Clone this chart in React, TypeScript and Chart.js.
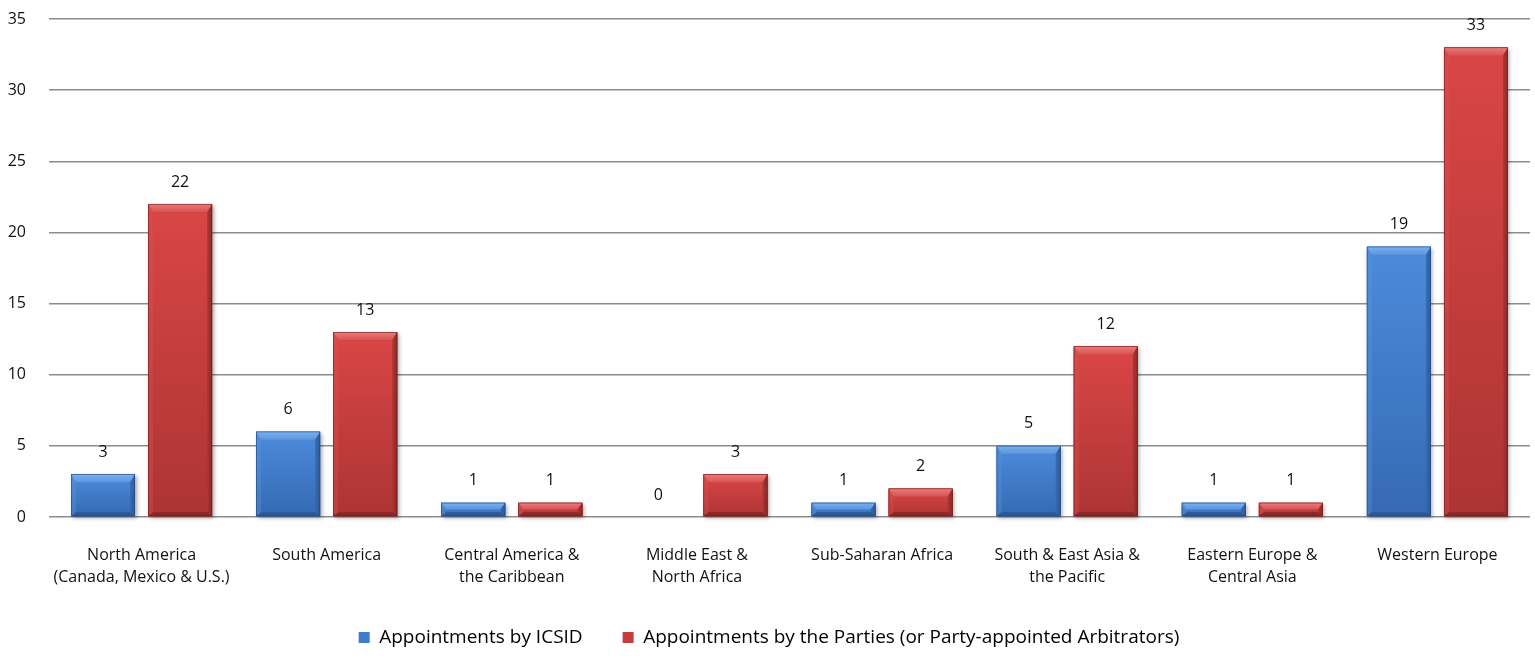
import React, { useEffect, useRef } from "react";
import { Chart, registerables } from "chart.js";

Chart.register(...registerables);

const categories: (string | string[])[] = [
  ["North America", "(Canada, Mexico & U.S.)"],
  "South America",
  ["Central America &", "the Caribbean"],
  ["Middle East &", "North Africa"],
  "Sub-Saharan Africa",
  ["South & East Asia &", "the Pacific"],
  ["Eastern Europe &", "Central Asia"],
  "Western Europe",
];
const icsidValues = [3, 6, 1, 0, 1, 5, 1, 19];
const partiesValues = [22, 13, 1, 3, 2, 12, 1, 33];
const seriesNames = [
  "Appointments by ICSID",
  "Appointments by the Parties (or Party-appointed Arbitrators)",
];
const yTicks = [0, 5, 10, 15, 20, 25, 30, 35];

const FONT = "'Open Sans', 'Noto Sans', sans-serif";

const palettes = [
  { base: "#3f7cc9", top: "#4c8bdb", bottom: "#356ab3", light: "#7db0ee", side: "#5c96de", dark: "#2a528c", edge: "#234a80" },
  { base: "#c63c3c", top: "#da4646", bottom: "#ad3434", light: "#ec7b7b", side: "#d65454", dark: "#7f2424", edge: "#6e1e1e" },
];

const bevelPlugin = {
  id: "bevel",
  afterDatasetsDraw(chart: any) {
    const ctx = chart.ctx as CanvasRenderingContext2D;
    chart.data.datasets.forEach((ds: any, di: number) => {
      const meta = chart.getDatasetMeta(di);
      const pal = palettes[di];
      meta.data.forEach((el: any, i: number) => {
        const p = el.getProps(["x", "y", "base", "width"], true);
        const l = p.x - p.width / 2;
        const r = p.x + p.width / 2;
        const t = Math.min(p.y, p.base);
        const b = Math.max(p.y, p.base);
        const h = b - t;
        const val = ds.data[i];
        if (h >= 1) {
          ctx.save();
          ctx.shadowColor = "rgba(0,0,0,0.35)";
          ctx.shadowBlur = 4;
          ctx.shadowOffsetX = 1.5;
          ctx.shadowOffsetY = 2;
          const g = ctx.createLinearGradient(0, t, 0, b);
          g.addColorStop(0, pal.top);
          g.addColorStop(1, pal.bottom);
          ctx.fillStyle = g;
          ctx.fillRect(l, t, r - l, h);
          ctx.restore();
          const tv = Math.min(8, h / 2);
          const sv = Math.min(5, h / 2);
          const bv = Math.min(4, h / 2);
          ctx.save();
          const tg = ctx.createLinearGradient(0, t, 0, t + tv);
          tg.addColorStop(0, pal.light);
          tg.addColorStop(1, pal.side);
          ctx.fillStyle = tg;
          ctx.beginPath();
          ctx.moveTo(l, t);
          ctx.lineTo(r, t);
          ctx.lineTo(r - sv, t + tv);
          ctx.lineTo(l + sv, t + tv);
          ctx.closePath();
          ctx.fill();
          ctx.globalAlpha = 0.35;
          ctx.fillStyle = pal.side;
          ctx.beginPath();
          ctx.moveTo(l, t);
          ctx.lineTo(l + sv, t + tv);
          ctx.lineTo(l + sv, b - bv);
          ctx.lineTo(l, b);
          ctx.closePath();
          ctx.fill();
          ctx.globalAlpha = 0.85;
          const rg = ctx.createLinearGradient(r - sv, 0, r, 0);
          rg.addColorStop(0, pal.bottom);
          rg.addColorStop(1, pal.dark);
          ctx.fillStyle = rg;
          ctx.beginPath();
          ctx.moveTo(r, t);
          ctx.lineTo(r, b);
          ctx.lineTo(r - sv, b - bv);
          ctx.lineTo(r - sv, t + tv);
          ctx.closePath();
          ctx.fill();
          ctx.globalAlpha = 0.8;
          ctx.fillStyle = pal.dark;
          ctx.beginPath();
          ctx.moveTo(l, b);
          ctx.lineTo(r, b);
          ctx.lineTo(r - sv, b - bv);
          ctx.lineTo(l + sv, b - bv);
          ctx.closePath();
          ctx.fill();
          ctx.globalAlpha = 1;
          ctx.strokeStyle = pal.edge;
          ctx.lineWidth = 0.6;
          ctx.strokeRect(l + 0.3, t + 0.3, r - l - 0.6, h - 0.6);
          ctx.restore();
        }
        ctx.save();
        ctx.fillStyle = "#111";
        ctx.font = `16px ${FONT}`;
        ctx.textAlign = "center";
        ctx.textBaseline = "middle";
        ctx.fillText(String(val), p.x, t - 22);
        ctx.restore();
      });
    });
  },
};

export default function App() {
  const ref = useRef<HTMLCanvasElement | null>(null);
  useEffect(() => {
    if (!ref.current) return;
    const chart = new Chart(ref.current, {
      type: "bar",
      data: {
        labels: categories,
        datasets: [
          {
            label: seriesNames[0],
            data: icsidValues,
            backgroundColor: palettes[0].base,
            borderWidth: 0,
            categoryPercentage: 0.833,
            barPercentage: 0.83,
          },
          {
            label: seriesNames[1],
            data: partiesValues,
            backgroundColor: palettes[1].base,
            borderWidth: 0,
            categoryPercentage: 0.833,
            barPercentage: 0.83,
          },
        ],
      },
      options: {
        animation: false,
        responsive: true,
        maintainAspectRatio: false,
        layout: { padding: { top: 19, right: 5, left: 8, bottom: 1 } },
        plugins: {
          tooltip: { enabled: false },
          legend: {
            position: "bottom",
            labels: {
              boxWidth: 11,
              boxHeight: 11,
              padding: 40,
              color: "#000",
              font: { family: FONT, size: 19 },
            },
          },
        },
        scales: {
          x: {
            grid: { display: false },
            border: { display: false },
            afterFit: (scale: any) => {
              scale.height = 71;
              scale.paddingLeft = 0;
              scale.paddingRight = 0;
            },
            ticks: {
              color: "#111",
              font: { family: FONT, size: 16, lineHeight: 1.4 },
              maxRotation: 0,
              autoSkip: false,
              padding: 19,
            },
          },
          y: {
            min: 0,
            max: 35,
            afterBuildTicks: (axis: any) => {
              axis.ticks = yTicks.map((v) => ({ value: v }));
            },
            afterFit: (scale: any) => {
              scale.width = 41;
              scale.paddingTop = 0;
              scale.paddingBottom = 0;
            },
            grid: { color: "#8c8c8c", lineWidth: 1.5, drawTicks: false },
            border: { display: false },
            ticks: {
              color: "#111",
              font: { family: FONT, size: 16 },
              padding: 23,
            },
          },
        },
      },
      plugins: [bevelPlugin],
    });
    return () => chart.destroy();
  }, []);
  return (
    <div style={{ position: "fixed", left: 0, top: 0, width: 1535, height: 658, background: "#fff" }}>
      <canvas ref={ref} />
    </div>
  );
}
